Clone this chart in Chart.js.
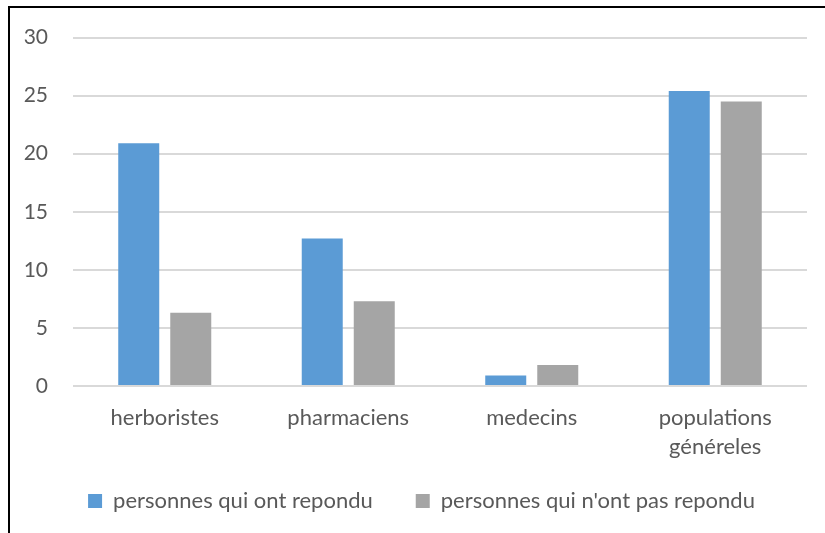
<!DOCTYPE html>
<html>
<head>
<meta charset="utf-8">
<script src="https://cdn.jsdelivr.net/npm/chart.js@4"></script>
<style>
  html, body { margin: 0; padding: 0; background: #fff; overflow: hidden; }
  #frame { position: absolute; left: 8px; top: 6px; width: 900px; height: 600px;
           border-left: 2px solid #000; border-top: 2px solid #000; }
  #wrap { position: absolute; left: 0; top: 0; width: 825px; height: 533px; }
</style>
</head>
<body>
<div id="frame"></div>
<div id="wrap"><canvas id="c" width="825" height="533"></canvas></div>
<script>
const categories = ['herboristes', 'pharmaciens', 'medecins', ['populations', 'généreles']];
const seriesNames = ['personnes qui ont repondu', "personnes qui n'ont pas repondu"];
const answered = [20.9, 12.7, 0.9, 25.4];
const notAnswered = [6.3, 7.3, 1.8, 24.5];
const yTicks = [0, 5, 10, 15, 20, 25, 30];

const FONT = 'Lato';
const TXT = '#595959';

const legendTweak = {
  id: 'legendTweak',
  afterInit(chart) {
    const lg = chart.legend;
    const orig = lg.fit.bind(lg);
    lg.fit = function () { orig(); this.height = 70; this.minSize && (this.minSize.height = 70); };
  },
  afterLayout(chart) {
    const lg = chart.legend;
    lg.top -= 15; lg.bottom -= 15;
    lg.left += 18; lg.right += 18;
  }
};

new Chart(document.getElementById('c'), {
  type: 'bar',
  data: {
    labels: categories,
    datasets: [
      { label: seriesNames[0], data: answered, backgroundColor: '#5B9BD5',
        categoryPercentage: 0.567, barPercentage: 0.788 },
      { label: seriesNames[1], data: notAnswered, backgroundColor: '#A5A5A5',
        categoryPercentage: 0.567, barPercentage: 0.788 }
    ]
  },
  plugins: [legendTweak],
  options: {
    responsive: false,
    animation: false,
    devicePixelRatio: 1,
    layout: { padding: { left: 0, right: 18, top: 35, bottom: 1 } },
    plugins: {
      tooltip: { enabled: false },
      legend: {
        position: 'bottom',
        labels: {
          font: { family: FONT, size: 22 },
          color: TXT,
          boxWidth: 14,
          boxHeight: 14,
          padding: 43
        }
      }
    },
    scales: {
      x: {
        grid: { display: false, drawTicks: false },
        border: { display: false },
        ticks: { font: { family: FONT, size: 22, lineHeight: 1.32 }, color: TXT, padding: 17, maxRotation: 0, autoSkip: false },
        afterFit: s => { s.height = 76; }
      },
      y: {
        min: 0, max: 30,
        afterBuildTicks: s => { s.ticks = yTicks.map(v => ({ value: v })); },
        grid: { color: '#d9d9d9', lineWidth: 2, drawTicks: false },
        border: { display: false },
        ticks: { font: { family: FONT, size: 21 }, color: TXT, padding: 25 },
        afterFit: s => { s.width = 73; }
      }
    }
  }
});
</script>
</body>
</html>
